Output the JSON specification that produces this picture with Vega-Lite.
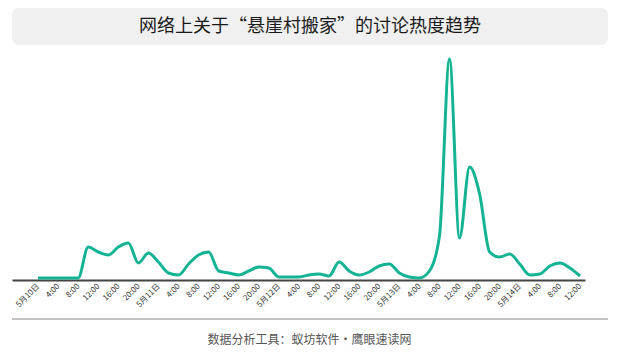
{
  "$schema": "https://vega.github.io/schema/vega-lite/v6.json",
  "padding": {"left": 11, "top": 8, "right": 0, "bottom": 0},
  "background": "white",
  "spacing": 8,
  "config": {"view": {"stroke": null}, "font": "Noto Sans CJK SC"},
  "vconcat": [
    {
      "width": 596,
      "height": 37,
      "view": {"fill": "#f0f0f0", "stroke": null, "cornerRadius": 7},
      "data": {"values": [{"title": "网络上关于“悬崖村搬家”的讨论热度趋势"}]},
      "mark": {"type": "text", "fontSize": 18, "color": "#1a1a1a"},
      "encoding": {"text": {"field": "title"}}
    },
    {
      "width": 573,
      "height": 223,
      "data": {"values": [
        {"time": "2019-05-10 00:00", "heat": 0},
        {"time": "2019-05-10 02:00", "heat": 0},
        {"time": "2019-05-10 04:00", "heat": 0},
        {"time": "2019-05-10 06:00", "heat": 0},
        {"time": "2019-05-10 08:00", "heat": 0},
        {"time": "2019-05-10 10:00", "heat": 31},
        {"time": "2019-05-10 12:00", "heat": 26},
        {"time": "2019-05-10 14:00", "heat": 23},
        {"time": "2019-05-10 16:00", "heat": 31},
        {"time": "2019-05-10 18:00", "heat": 35},
        {"time": "2019-05-10 20:00", "heat": 15},
        {"time": "2019-05-10 22:00", "heat": 25},
        {"time": "2019-05-11 00:00", "heat": 16},
        {"time": "2019-05-11 02:00", "heat": 5},
        {"time": "2019-05-11 04:00", "heat": 3},
        {"time": "2019-05-11 06:00", "heat": 14},
        {"time": "2019-05-11 08:00", "heat": 23},
        {"time": "2019-05-11 10:00", "heat": 26},
        {"time": "2019-05-11 12:00", "heat": 7},
        {"time": "2019-05-11 14:00", "heat": 5},
        {"time": "2019-05-11 16:00", "heat": 3},
        {"time": "2019-05-11 18:00", "heat": 7},
        {"time": "2019-05-11 20:00", "heat": 11},
        {"time": "2019-05-11 22:00", "heat": 10},
        {"time": "2019-05-12 00:00", "heat": 1},
        {"time": "2019-05-12 02:00", "heat": 1},
        {"time": "2019-05-12 04:00", "heat": 1},
        {"time": "2019-05-12 06:00", "heat": 3},
        {"time": "2019-05-12 08:00", "heat": 4},
        {"time": "2019-05-12 10:00", "heat": 2},
        {"time": "2019-05-12 12:00", "heat": 16},
        {"time": "2019-05-12 14:00", "heat": 7},
        {"time": "2019-05-12 16:00", "heat": 3},
        {"time": "2019-05-12 18:00", "heat": 6},
        {"time": "2019-05-12 20:00", "heat": 12},
        {"time": "2019-05-12 22:00", "heat": 14},
        {"time": "2019-05-13 00:00", "heat": 5},
        {"time": "2019-05-13 02:00", "heat": 1},
        {"time": "2019-05-13 04:00", "heat": 0},
        {"time": "2019-05-13 06:00", "heat": 7},
        {"time": "2019-05-13 08:00", "heat": 42},
        {"time": "2019-05-13 10:00", "heat": 219},
        {"time": "2019-05-13 12:00", "heat": 40},
        {"time": "2019-05-13 14:00", "heat": 111},
        {"time": "2019-05-13 16:00", "heat": 84},
        {"time": "2019-05-13 18:00", "heat": 26},
        {"time": "2019-05-13 20:00", "heat": 21},
        {"time": "2019-05-13 22:00", "heat": 24},
        {"time": "2019-05-14 00:00", "heat": 14},
        {"time": "2019-05-14 02:00", "heat": 3},
        {"time": "2019-05-14 04:00", "heat": 4},
        {"time": "2019-05-14 06:00", "heat": 12},
        {"time": "2019-05-14 08:00", "heat": 15},
        {"time": "2019-05-14 10:00", "heat": 10},
        {"time": "2019-05-14 12:00", "heat": 2}
      ]},
      "mark": {"type": "line", "interpolate": "monotone", "color": "#13b394", "strokeWidth": 3},
      "encoding": {
        "x": {
          "field": "time",
          "type": "temporal",
          "scale": {"domain": [
            {"year": 2019, "month": 5, "date": 9, "hours": 18, "minutes": 49},
            {"year": 2019, "month": 5, "date": 14, "hours": 13}
          ], "nice": false},
          "axis": {
            "title": null,
            "values": [
              {"year": 2019, "month": 5, "date": 10, "hours": 0},
              {"year": 2019, "month": 5, "date": 10, "hours": 4},
              {"year": 2019, "month": 5, "date": 10, "hours": 8},
              {"year": 2019, "month": 5, "date": 10, "hours": 12},
              {"year": 2019, "month": 5, "date": 10, "hours": 16},
              {"year": 2019, "month": 5, "date": 10, "hours": 20},
              {"year": 2019, "month": 5, "date": 11, "hours": 0},
              {"year": 2019, "month": 5, "date": 11, "hours": 4},
              {"year": 2019, "month": 5, "date": 11, "hours": 8},
              {"year": 2019, "month": 5, "date": 11, "hours": 12},
              {"year": 2019, "month": 5, "date": 11, "hours": 16},
              {"year": 2019, "month": 5, "date": 11, "hours": 20},
              {"year": 2019, "month": 5, "date": 12, "hours": 0},
              {"year": 2019, "month": 5, "date": 12, "hours": 4},
              {"year": 2019, "month": 5, "date": 12, "hours": 8},
              {"year": 2019, "month": 5, "date": 12, "hours": 12},
              {"year": 2019, "month": 5, "date": 12, "hours": 16},
              {"year": 2019, "month": 5, "date": 12, "hours": 20},
              {"year": 2019, "month": 5, "date": 13, "hours": 0},
              {"year": 2019, "month": 5, "date": 13, "hours": 4},
              {"year": 2019, "month": 5, "date": 13, "hours": 8},
              {"year": 2019, "month": 5, "date": 13, "hours": 12},
              {"year": 2019, "month": 5, "date": 13, "hours": 16},
              {"year": 2019, "month": 5, "date": 13, "hours": 20},
              {"year": 2019, "month": 5, "date": 14, "hours": 0},
              {"year": 2019, "month": 5, "date": 14, "hours": 4},
              {"year": 2019, "month": 5, "date": 14, "hours": 8},
              {"year": 2019, "month": 5, "date": 14, "hours": 12}
            ],
            "labelExpr": "hours(datum.value) == 0 ? timeFormat(datum.value, '%-m月%-d日') : timeFormat(datum.value, '%-H:%M')",
            "labelAngle": -45,
            "labelAlign": "right",
            "labelBaseline": "middle",
            "labelFontSize": 8,
            "labelColor": "#333",
            "labelPadding": 5,
            "labelOverlap": false,
            "labelFlush": false,
            "ticks": false,
            "grid": false,
            "domainColor": "#444",
            "domainWidth": 2
          }
        },
        "y": {
          "field": "heat",
          "type": "quantitative",
          "scale": {"domain": [-2, 221], "nice": false, "zero": false},
          "axis": null
        }
      }
    },
    {
      "width": 595,
      "height": 1,
      "view": {"fill": null, "stroke": "#888", "strokeWidth": 1, "strokeDash": [1, 1]},
      "data": {"values": [{"note": "数据分析工具：蚁坊软件·鹰眼速读网"}]},
      "mark": {"type": "text", "fontSize": 12, "color": "#555", "dy": 21},
      "encoding": {"text": {"field": "note"}}
    }
  ]
}
